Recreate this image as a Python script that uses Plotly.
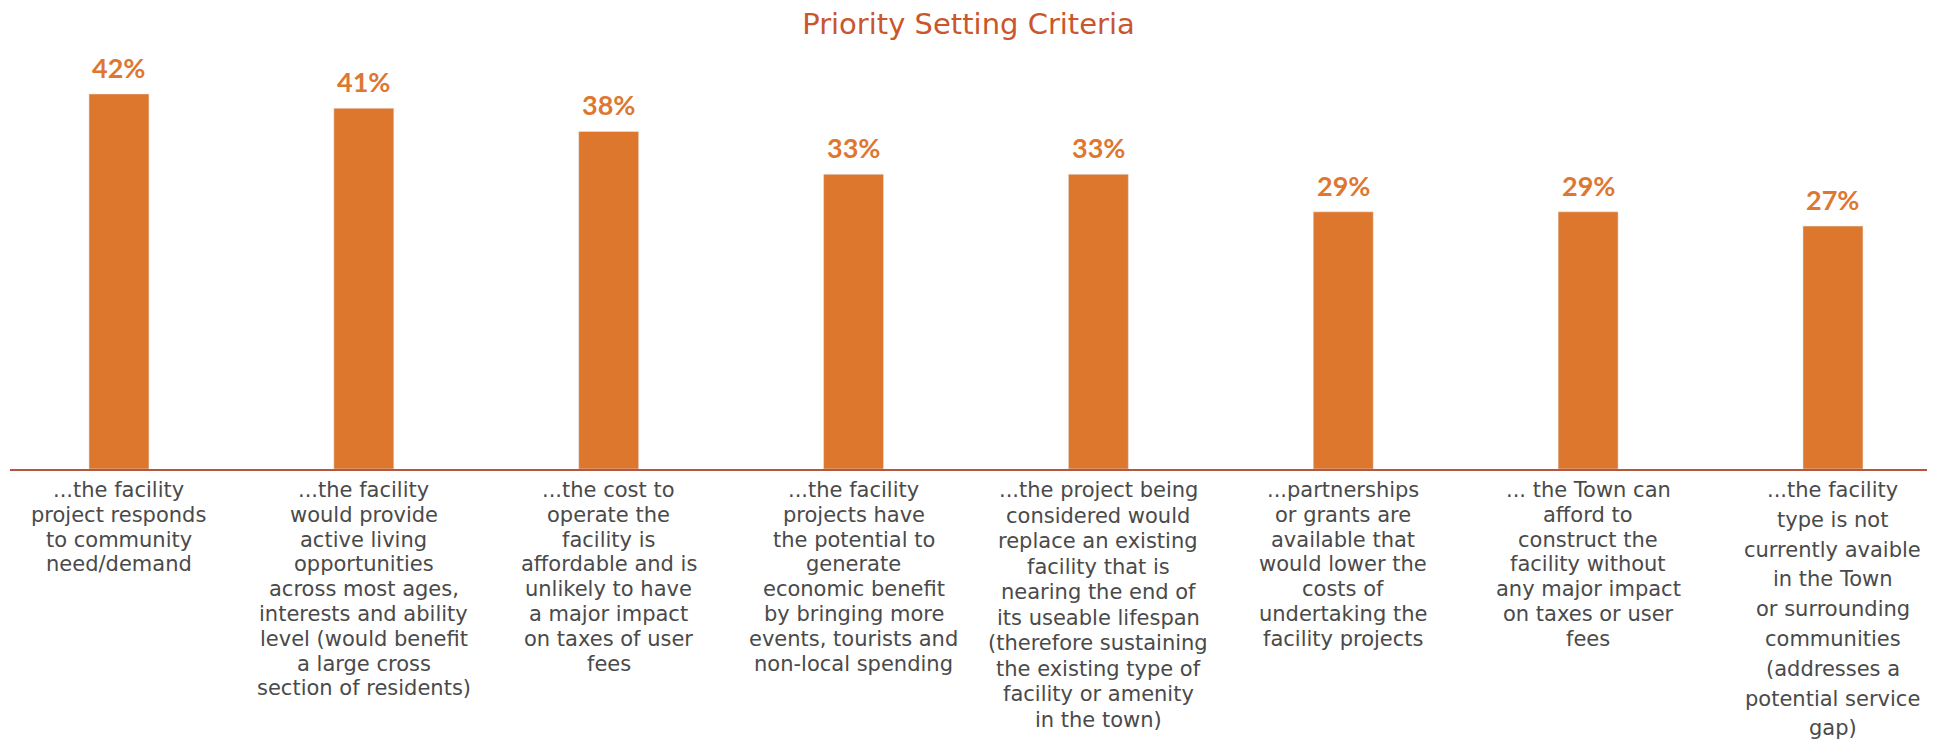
import plotly.graph_objects as go

# ---- data ----
categories = [
    "...the facility<br>project responds<br>to community<br>need/demand",
    "...the facility<br>would provide<br>active living<br>opportunities<br>across most ages,<br>interests and ability<br>level (would benefit<br>a large cross<br>section of residents)",
    "...the cost to<br>operate the<br>facility is<br>affordable and is<br>unlikely to have<br>a major impact<br>on taxes of user<br>fees",
    "...the facility<br>projects have<br>the potential to<br>generate<br>economic benefit<br>by bringing more<br>events, tourists and<br>non-local spending",
    "...the project being<br>considered would<br>replace an existing<br>facility that is<br>nearing the end of<br>its useable lifespan<br>(therefore sustaining<br>the existing type of<br>facility or amenity<br>in the town)",
    "...partnerships<br>or grants are<br>available that<br>would lower the<br>costs of<br>undertaking the<br>facility projects",
    "... the Town can<br>afford to<br>construct the<br>facility without<br>any major impact<br>on taxes or user<br>fees",
    "...the facility<br>type is not<br>currently avaible<br>in the Town<br>or surrounding<br>communities<br>(addresses a<br>potential service<br>gap)",
]
values = [42.0, 40.4, 37.8, 33.0, 33.0, 28.8, 28.8, 27.2]
value_labels = ["42%", "41%", "38%", "33%", "33%", "29%", "29%", "27%"]
title_text = "Priority Setting Criteria"

# ---- style ----
BAR = "#DD772D"
LABEL = "#DD7731"
TITLE = "#C9562C"
AXIS = "#B5563F"
TEXT = "#4A4A4A"
W, H = 1946, 743
ML, MR, MT = 10, 19, 60
plot_h = 409
MB = H - MT - plot_h
px_per_unit = 8.93

fig = go.Figure()
fig.add_trace(go.Bar(
    x=categories, y=values, marker_color=BAR, width=0.245,
    hoverinfo="skip",
))

annotations = []
for c, v, lab in zip(categories, values, value_labels):
    annotations.append(dict(
        x=c, y=v, xref="x", yref="y", text=lab, showarrow=False,
        yanchor="bottom", yshift=8,
        font=dict(family="Lato", size=27, color=LABEL, weight="bold"),
    ))

for i, c in enumerate(categories):
    lines = c.split("<br>")
    sp = 29.8 if i == len(categories) - 1 else (25.5 if i == 4 else 24.8)
    for k, ln in enumerate(lines):
        annotations.append(dict(
            x=c, y=0, xref="x", yref="y", text=ln, showarrow=False,
            yanchor="top", yshift=-(8 + k * sp), borderpad=0,
            font=dict(family="DejaVu Sans", size=21, color=TEXT),
        ))

fig.update_layout(
    width=W, height=H,
    margin=dict(l=ML, r=MR, t=MT, b=MB),
    paper_bgcolor="white", plot_bgcolor="white",
    showlegend=False,
    title=dict(text=title_text, x=0.5, xref="paper", xanchor="center",
               y=1 - 14 / H, yref="container", yanchor="top",
               font=dict(family="DejaVu Sans", size=29, color=TITLE)),
    xaxis=dict(showticklabels=False, showgrid=False, zeroline=False,
               showline=True, linecolor=AXIS, linewidth=2, ticks="",
               range=[-0.445, 7.384]),
    yaxis=dict(visible=False, range=[0, plot_h / px_per_unit], showgrid=False),
    annotations=annotations,
)

fig.write_html("out.html", config={"displayModeBar": False},
               post_script="document.body.style.margin='0';")
